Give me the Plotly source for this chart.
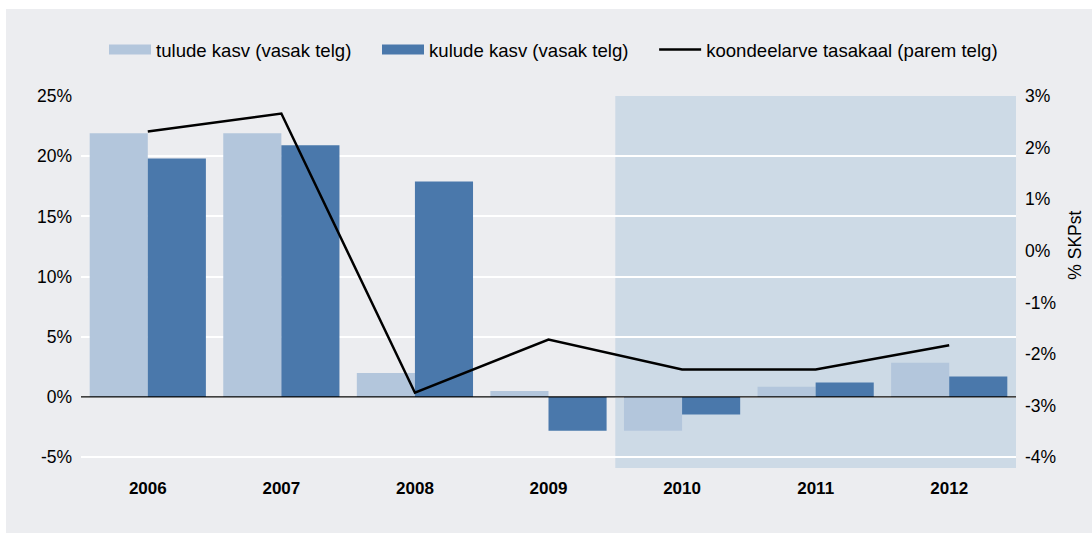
import plotly.graph_objects as go

years = ["2006", "2007", "2008", "2009", "2010", "2011", "2012"]
tulude = [21.9, 21.9, 2.0, 0.5, -2.8, 0.85, 2.85]
kulude = [19.8, 20.9, 17.9, -2.8, -1.45, 1.2, 1.7]
tasakaal = [2.31, 2.66, -2.75, -1.72, -2.3, -2.3, -1.83]

left_ticks = [-5, 0, 5, 10, 15, 20, 25]
right_ticks = [-4, -3, -2, -1, 0, 1, 2, 3]

BG = "#ECEDF0"
LIGHT = "#B3C6DC"
DARK = "#4A78AB"
FONT = "Liberation Sans, Arial, Helvetica, sans-serif"
PAD = "\u00a0" * 4  # extra room between legend items

fig = go.Figure()
fig.add_trace(go.Bar(x=years, y=tulude, name="tulude kasv (vasak telg)",
                     marker=dict(color=LIGHT, line=dict(width=0)), showlegend=False))
fig.add_trace(go.Bar(x=years, y=kulude, name="kulude kasv (vasak telg)",
                     marker=dict(color=DARK, line=dict(width=0)), showlegend=False))
fig.add_trace(go.Scatter(x=years, y=tasakaal, yaxis="y2", mode="lines",
                         name="koondeelarve tasakaal (parem telg)",
                         line=dict(color="black", width=2.5), showlegend=False))

# legend entries with wide swatches
for nm, col, w in [("tulude kasv (vasak telg)" + PAD, LIGHT, 14),
                   ("kulude kasv (vasak telg)" + PAD, DARK, 14),
                   ("koondeelarve tasakaal (parem telg)", "black", 2.5)]:
    fig.add_trace(go.Scatter(x=[None], y=[None], mode="lines", name=nm,
                             line=dict(color=col, width=w)))

# gray panel, white strip on top and left
fig.add_shape(type="rect", xref="paper", yref="paper", layer="below",
              x0=-0.0802, x1=1.1, y0=-0.2, y1=1.234,
              fillcolor=BG, line=dict(width=0))
# forecast shading 2010-2012
fig.add_shape(type="rect", xref="x", yref="paper", layer="below",
              x0=3.5, x1=6.5, y0=0, y1=1,
              fillcolor="#CDDAE6", line=dict(width=0))
# zero line
fig.add_shape(type="line", xref="paper", yref="y", layer="above",
              x0=0, x1=1, y0=0, y1=0, line=dict(color="black", width=1.3))

fig.add_annotation(text="% SKPst", textangle=-90, xref="paper", yref="paper",
                   x=1.063, y=0.6, xanchor="center", yanchor="middle",
                   showarrow=False, font=dict(size=17.5))

fig.update_layout(
    width=1092, height=533,
    margin=dict(l=81, r=76, t=96, b=65),
    paper_bgcolor="white", plot_bgcolor="rgba(0,0,0,0)",
    font=dict(family=FONT, size=17.5, color="black"),
    barmode="group", bargap=0.13, bargroupgap=0,
    showlegend=True,
    legend=dict(orientation="h", x=0.0246, xanchor="left", y=1.124, yanchor="middle",
                font=dict(size=18.6), bgcolor="rgba(0,0,0,0)", itemwidth=42,
                traceorder="normal"),
    xaxis=dict(range=[-0.5, 6.5], showgrid=False, showline=False, ticks="",
               tickfont=dict(size=17, family="Liberation Sans, Arial", weight="bold"),
               ticklabelstandoff=8),
    yaxis=dict(range=[-5.9, 25], tickvals=left_ticks,
               ticktext=[f"{v}%" for v in left_ticks],
               showgrid=True, gridcolor="white", gridwidth=2,
               zeroline=False, showline=False, ticks="", ticklabelstandoff=8),
    yaxis2=dict(range=[-4.21, 3], overlaying="y", side="right",
                tickvals=right_ticks, ticktext=[f"{v}%" for v in right_ticks],
                showgrid=False, zeroline=False, showline=False, ticks="",
                ticklabelstandoff=8),
)

fig.write_html("out.html", config={"displayModeBar": False},
               post_script="document.body.style.margin='0';")
